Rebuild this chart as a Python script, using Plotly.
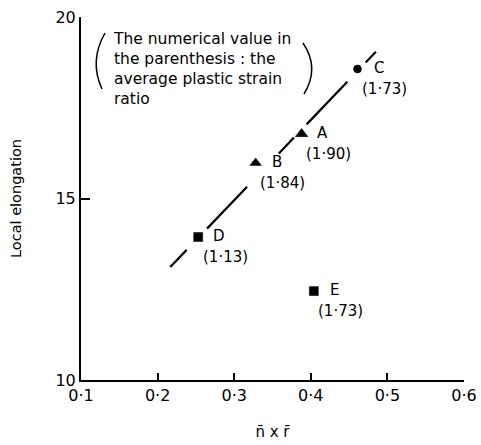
import plotly.graph_objects as go

# ---- data ----
labels = ["A", "B", "C", "D", "E"]
ratios = ["(1·90)", "(1·84)", "(1·73)", "(1·13)", "(1·73)"]
nr = [0.388, 0.328, 0.461, 0.253, 0.404]
elong = [16.78, 15.98, 18.57, 13.94, 12.45]
symbols = ["triangle-up", "triangle-up", "circle", "square", "square"]
sizes = [11, 10, 8, 9, 9]

# fitted line (broken where labels sit)
fit_x0, fit_y0, fit_slope = 0.2165, 13.11, 22.09
fit_segments = [(0.2165, 0.238), (0.2645, 0.3168), (0.3583, 0.378),
                (0.3945, 0.4477), (0.4717, 0.485)]

x_ticks = [0.1, 0.2, 0.3, 0.4, 0.5, 0.6]
x_ticklabels = ["0·1", "0·2", "0·3", "0·4", "0·5", "0·6"]
y_ticks = [10, 15, 20]
y_ticklabels = ["10", "15", "20"]

W, H = 481, 445
ML, MR, MT, MB = 81, 17, 17, 65
FONT = "DejaVu Sans"

fig = go.Figure()

lx, ly = [], []
for a, b in fit_segments:
    lx += [a, b, None]
    ly += [fit_y0 + fit_slope * (a - fit_x0), fit_y0 + fit_slope * (b - fit_x0), None]
fig.add_trace(go.Scatter(x=lx, y=ly, mode="lines",
                         line=dict(color="black", width=2.2), hoverinfo="skip"))

fig.add_trace(go.Scatter(x=nr, y=elong, mode="markers", opacity=1,
                         marker=dict(symbol=symbols, size=sizes, color="#000000", opacity=1,
                                     line=dict(color="#000000", width=0.5)),
                         hoverinfo="skip"))

annotations = []
for lab, r, x, y in zip(labels, ratios, nr, elong):
    annotations.append(dict(x=x, y=y, xref="x", yref="y", text=lab, showarrow=False,
                            xshift=21, yshift=1, font=dict(size=15, color="black", family=FONT)))
    annotations.append(dict(x=x, y=y, xref="x", yref="y", text=r, showarrow=False,
                            xshift=27, yshift=-20, font=dict(size=15, color="black", family=FONT)))

def px2paper(px, py):
    return (px - ML) / (W - ML - MR), (H - MB - py) / (H - MT - MB)

annotations.append(dict(x=px2paper(111, 0)[0], y=px2paper(0, 28)[1], xref="paper", yref="paper",
                        xanchor="left", yanchor="top", align="left", showarrow=False,
                        text="The numerical value in<br>the parenthesis : the<br>average plastic strain<br>ratio",
                        font=dict(size=15.5, color="black", family=FONT)))

def paren(p0, c, p1):
    a = px2paper(*p0); b = px2paper(*c); d = px2paper(*p1)
    return dict(type="path", xref="paper", yref="paper",
                path=f"M {a[0]},{a[1]} Q {b[0]},{b[1]} {d[0]},{d[1]}",
                line=dict(color="black", width=1.5))

shapes = [paren((105, 33), (89, 61), (102, 89)),
          paren((303, 43), (320, 68), (304, 94))]

fig.update_layout(
    width=W, height=H,
    margin=dict(l=ML, r=MR, t=MT, b=MB),
    paper_bgcolor="white", plot_bgcolor="white",
    showlegend=False,
    annotations=annotations, shapes=shapes,
    font=dict(family=FONT, color="black"),
    xaxis=dict(range=[0.1, 0.6], tickvals=x_ticks, ticktext=x_ticklabels, automargin=False,
               showgrid=False, zeroline=False, showline=True, linecolor="black", linewidth=2,
               ticks="inside", ticklen=7, tickwidth=1.5, tickcolor="black",
               tickfont=dict(size=16), title=dict(text="n\u0304 x r\u0304", font=dict(size=15), standoff=22)),
    yaxis=dict(range=[10, 20], tickvals=y_ticks, ticktext=y_ticklabels, automargin=False,
               showgrid=False, zeroline=False, showline=True, linecolor="black", linewidth=2,
               ticks="inside", ticklen=9, tickwidth=1.5, tickcolor="black",
               tickfont=dict(size=16), title=dict(text="Local elongation", font=dict(size=14.5), standoff=30)),
)

fig.write_html("out.html")
